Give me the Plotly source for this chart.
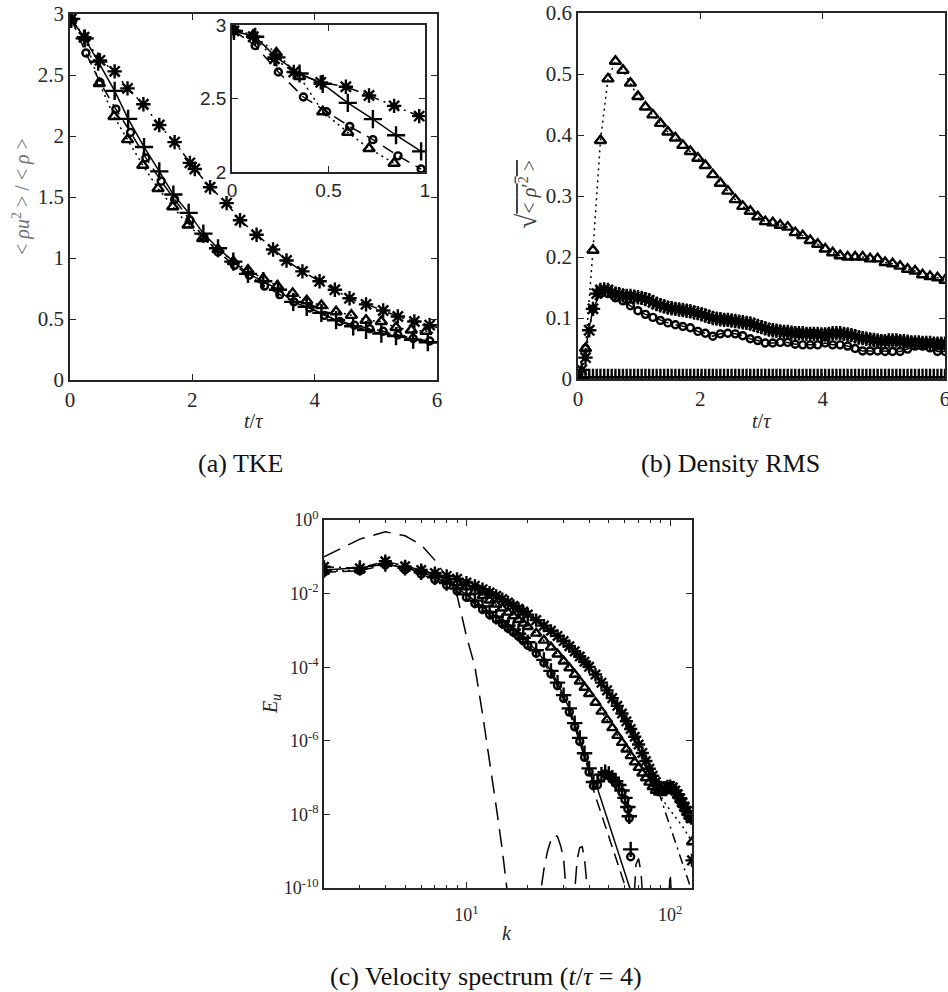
import numpy as np
import plotly.graph_objects as go

# ---------------- (a) TKE: <rho u^2>/<rho> versus t/tau ----------------
T_STAR_A = [0.02, 0.23, 0.49, 0.73, 0.94, 1.2, 1.46, 1.71, 1.96, 2.04, 2.29, 2.56, 2.78,
            3.05, 3.32, 3.54, 3.8, 4.08, 4.33, 4.57, 4.84, 5.12, 5.36, 5.63, 5.88, 6.0]
TKE_STAR_A = [2.96, 2.81, 2.62, 2.53, 2.39, 2.26, 2.09, 1.95, 1.78, 1.73, 1.58, 1.45, 1.31,
              1.19, 1.07, 0.98, 0.89, 0.81, 0.74, 0.67, 0.62, 0.57, 0.52, 0.48, 0.45, 0.43]
T_PLUS_A = [0.02, 0.24, 0.46, 0.73, 0.95, 1.21, 1.46, 1.69, 1.94, 2.18, 2.42, 2.67, 2.91,
            3.16, 3.4, 3.65, 3.87, 4.11, 4.35, 4.63, 4.84, 5.09, 5.33, 5.61, 5.85, 6.0]
TKE_PLUS_A = [2.96, 2.8, 2.61, 2.37, 2.14, 1.91, 1.71, 1.52, 1.37, 1.2, 1.08, 0.97, 0.87,
              0.81, 0.74, 0.64, 0.6, 0.55, 0.49, 0.44, 0.41, 0.38, 0.36, 0.33, 0.31, 0.305]
T_CIRC_A = [0.02, 0.26, 0.49, 0.75, 0.99, 1.24, 1.49, 1.71, 1.96, 2.19, 2.42, 2.69, 2.93,
            3.18, 3.43, 3.66, 3.92, 4.16, 4.41, 4.65, 4.9, 5.12, 5.36, 5.61, 5.88, 6.0]
TKE_CIRC_A = [2.96, 2.68, 2.44, 2.22, 2.03, 1.82, 1.63, 1.48, 1.31, 1.17, 1.05, 0.94, 0.86,
              0.77, 0.7, 0.64, 0.59, 0.53, 0.48, 0.45, 0.42, 0.4, 0.37, 0.34, 0.32, 0.31]
T_TRI_A = [0.02, 0.24, 0.48, 0.72, 0.94, 1.19, 1.44, 1.68, 1.93, 2.17, 2.42, 2.67, 2.91,
           3.16, 3.39, 3.64, 3.87, 4.11, 4.35, 4.6, 4.84, 5.09, 5.33, 5.58, 5.82, 6.0]
TKE_TRI_A = [2.96, 2.81, 2.43, 2.16, 1.97, 1.76, 1.57, 1.42, 1.27, 1.16, 1.07, 0.97, 0.9,
             0.83, 0.77, 0.71, 0.65, 0.61, 0.56, 0.53, 0.49, 0.48, 0.43, 0.41, 0.4, 0.38]

# inset of (a): early times 0 <= t/tau <= 1
T_STAR_IN = [0.01, 0.11, 0.22, 0.32, 0.46, 0.59, 0.71, 0.84, 0.97]
TKE_STAR_IN = [2.96, 2.92, 2.77, 2.68, 2.61, 2.58, 2.52, 2.45, 2.38]
T_PLUS_IN = [0.01, 0.12, 0.23, 0.35, 0.47, 0.6, 0.73, 0.85, 0.98]
TKE_PLUS_IN = [2.96, 2.92, 2.78, 2.67, 2.6, 2.47, 2.36, 2.25, 2.14]
T_CIRC_IN = [0.01, 0.12, 0.24, 0.37, 0.49, 0.61, 0.73, 0.86, 0.98]
TKE_CIRC_IN = [2.96, 2.86, 2.68, 2.51, 2.41, 2.31, 2.22, 2.11, 2.02]
T_TRI_IN = [0.01, 0.11, 0.23, 0.35, 0.47, 0.6, 0.71, 0.84]
TKE_TRI_IN = [2.97, 2.93, 2.81, 2.65, 2.41, 2.27, 2.16, 2.06]

# ---------------- (b) density RMS versus t/tau ----------------
RMS_STAR_B = [0.0, 0.015, 0.035, 0.08, 0.115, 0.14, 0.146, 0.147, 0.146, 0.142,
              0.14, 0.139, 0.137, 0.136, 0.136, 0.135, 0.134, 0.133, 0.131, 0.129,
              0.126, 0.123, 0.121, 0.119, 0.117, 0.116, 0.115, 0.114, 0.113, 0.112,
              0.111, 0.109, 0.108, 0.106, 0.104, 0.102, 0.1, 0.099, 0.098, 0.097,
              0.097, 0.096, 0.095, 0.094, 0.093, 0.092, 0.091, 0.089, 0.087, 0.085,
              0.083, 0.081, 0.08, 0.079, 0.078, 0.077, 0.077, 0.076, 0.075, 0.075,
              0.075, 0.074, 0.074, 0.074, 0.074, 0.073, 0.073, 0.074, 0.075, 0.075,
              0.075, 0.074, 0.073, 0.072, 0.07, 0.068, 0.067, 0.066, 0.065, 0.064,
              0.063, 0.062, 0.062, 0.063, 0.063, 0.063, 0.062, 0.062, 0.061, 0.06,
              0.06, 0.06, 0.059, 0.059, 0.059, 0.058, 0.058, 0.058, 0.058]
RMS_PLUS_B = [0.0, 0.002, 0.003, 0.003, 0.003, 0.003, 0.003, 0.003, 0.003, 0.003,
              0.003, 0.003, 0.003, 0.003, 0.003, 0.003, 0.003, 0.003, 0.003, 0.003,
              0.003, 0.003, 0.003, 0.003, 0.003, 0.003, 0.003, 0.003, 0.003, 0.003,
              0.003, 0.003, 0.003, 0.003, 0.003, 0.003, 0.003, 0.003, 0.003, 0.003,
              0.003, 0.003, 0.003, 0.003, 0.003, 0.003, 0.003, 0.003, 0.003, 0.003,
              0.003, 0.003, 0.003, 0.003, 0.003, 0.003, 0.003, 0.003, 0.003, 0.003,
              0.003, 0.003, 0.003, 0.003, 0.003, 0.003, 0.003, 0.003, 0.003, 0.003,
              0.003, 0.003, 0.003, 0.003, 0.003, 0.003, 0.003, 0.003, 0.003, 0.003,
              0.003, 0.003, 0.003, 0.003, 0.003, 0.003, 0.003, 0.003, 0.003, 0.003,
              0.003, 0.003, 0.003, 0.003, 0.003, 0.003, 0.003, 0.003, 0.003]
RMS_CIRC_B = [0.0, 0.05, 0.115, 0.14, 0.14, 0.133, 0.128, 0.12, 0.112, 0.106,
              0.101, 0.096, 0.092, 0.089, 0.086, 0.084, 0.078, 0.075, 0.07, 0.074,
              0.075, 0.074, 0.071, 0.066, 0.063, 0.059, 0.059, 0.06, 0.06, 0.057,
              0.056, 0.056, 0.056, 0.059, 0.056, 0.056, 0.054, 0.05, 0.046, 0.046,
              0.046, 0.045, 0.045, 0.045, 0.049, 0.054, 0.054, 0.051, 0.045, 0.045]
RMS_TRI_B = [0.0, 0.05, 0.211, 0.391, 0.492, 0.521, 0.506, 0.485, 0.463, 0.446,
             0.433, 0.419, 0.405, 0.395, 0.383, 0.373, 0.362, 0.35, 0.335, 0.321,
             0.308, 0.294, 0.283, 0.275, 0.266, 0.258, 0.256, 0.252, 0.249, 0.24,
             0.235, 0.227, 0.221, 0.213, 0.207, 0.202, 0.2, 0.2, 0.2, 0.197,
             0.197, 0.191, 0.189, 0.185, 0.18, 0.177, 0.171, 0.168, 0.166, 0.162]
T_FINE_B = np.linspace(0.0, 6.0, len(RMS_STAR_B))
T_COARSE_B = np.linspace(0.0, 6.0, len(RMS_CIRC_B))

# ---------------- (c) velocity spectrum at t/tau = 4 (log10 of E_u) ----------------
K_HI = [2, 3, 4, 5, 6, 7, 8, 9, 10, 11, 12, 13, 14, 15, 16, 17, 18, 19, 20,
        22, 24, 26, 28, 30, 32, 34, 36, 38, 40,
        43, 46, 49, 52, 55, 58, 61, 64, 67, 70, 73, 76, 79, 82, 85, 88, 91, 94, 97, 100,
        103, 106, 109, 112, 115, 118, 121, 124, 127, 128]
LOG_E_STAR = [-1.27, -1.31, -1.12, -1.26, -1.36, -1.44, -1.52, -1.6, -1.7, -1.79,
              -1.88, -1.97, -2.06, -2.15, -2.24, -2.33, -2.41, -2.49, -2.57,
              -2.72, -2.87, -3.01, -3.15, -3.29, -3.43, -3.57, -3.71, -3.85, -3.99,
              -4.2, -4.42, -4.63, -4.84, -5.05, -5.26, -5.47, -5.68, -5.89, -6.1,
              -6.33, -6.55, -6.76, -6.95, -7.12, -7.25, -7.3, -7.28, -7.24, -7.23,
              -7.27, -7.35, -7.45, -7.56, -7.68, -7.8, -7.91, -8.02, -8.1, -9.25]
LOG_E_TRI = [-1.4, -1.36, -1.18, -1.3, -1.4, -1.5, -1.6, -1.71, -1.82, -1.94,
             -2.06, -2.18, -2.29, -2.4, -2.51, -2.61, -2.71, -2.81, -2.9,
             -3.08, -3.27, -3.46, -3.65, -3.84, -4.02, -4.2, -4.38, -4.55, -4.72,
             -4.96, -5.2, -5.43, -5.65, -5.86, -6.05, -6.23, -6.41, -6.58, -6.73,
             -6.88, -7.01, -7.13, -7.25, -7.35, -7.4, -7.41, -7.36, -7.3, -7.28,
             -7.31, -7.38, -7.48, -7.6, -7.72, -7.84, -7.95, -8.05, -8.15, -8.75]
K_LO = [2, 3, 4, 5, 6, 7, 8, 9, 10, 11, 12, 13, 14, 15, 16, 17, 18, 19, 20,
        22, 24, 26, 28, 30, 32, 34, 36, 38, 40,
        42, 44, 46, 48, 50, 52, 54, 56, 58, 60, 62, 63, 64]
LOG_E_CIRC = [-1.42, -1.38, -1.22, -1.35, -1.47, -1.62, -1.77, -1.93, -2.1, -2.27,
              -2.43, -2.57, -2.7, -2.82, -2.94, -3.05, -3.16, -3.28, -3.4,
              -3.62, -3.88, -4.18, -4.5, -4.85, -5.22, -5.62, -6.02, -6.45, -6.85,
              -7.22, -7.2, -7.0, -6.9, -6.95, -7.05, -7.15, -7.25, -7.4, -7.6, -7.85,
              -8.1, -9.15]
LOG_E_PLUS = [-1.36, -1.3, -1.2, -1.3, -1.42, -1.56, -1.71, -1.86, -2.02, -2.19,
              -2.35, -2.5, -2.63, -2.75, -2.87, -2.98, -3.09, -3.2, -3.32,
              -3.54, -3.8, -4.1, -4.42, -4.76, -5.12, -5.52, -5.92, -6.34, -6.75,
              -7.12, -7.1, -6.92, -6.85, -6.9, -7.0, -7.1, -7.2, -7.35, -7.55, -7.8,
              -8.05, -8.95]
# tails of the connecting lines where they leave the marker bands
K_STAR_TAIL = [88, 91, 95, 100, 105, 110, 115, 120, 125, 128]
LOG_E_STAR_TAIL = [-7.4, -7.62, -7.96, -8.33, -8.68, -9.02, -9.33, -9.64, -9.94, -10.1]
K_TRI_TAIL = [91, 94, 97, 100, 106, 112, 118, 124, 128]
LOG_E_TRI_TAIL = [-7.55, -7.68, -7.79, -7.88, -8.06, -8.24, -8.42, -8.6, -8.75]
K_CIRC_TAIL = [42, 46, 50, 55, 60, 64]
LOG_E_CIRC_TAIL = [-7.34, -8.0, -8.61, -9.3, -9.96, -10.4]
K_PLUS_TAIL = [42, 44, 48, 52, 56, 60, 64, 66]
LOG_E_PLUS_TAIL = [-7.2, -7.3, -7.94, -8.52, -9.05, -9.55, -10.05, -10.3]
# reference spectrum (long dashes, no markers)
K_REF = [2, 3, 4, 5, 6, 7, 8, 9, 10, 11, 12, 13, 14, 15, 16, 17, 20, 22, 23, 24, 25, 26,
         27, 28, 29, 30, 31, 32, 33, 34, 35, 36, 37, 38, 39, 40, 44, 50, 60, 66, 68, 70,
         72, 74, 80, 90, 98, 100, 102, 104, 128]
LOG_E_REF = [-1.0, -0.52, -0.32, -0.43, -0.68, -1.09, -1.55, -2.05, -3.15, -3.98, -5.27,
             -6.54, -7.78, -8.96, -10.4, -11.5, -12.0, -11.0, -10.2, -9.5, -9.0, -8.7,
             -8.56, -8.6, -8.85, -9.2, -10.2, -11.0, -11.0, -10.2, -9.2, -8.9, -8.88, -9.2,
             -9.9, -10.6, -11.5, -12.0, -12.0, -10.6, -9.35, -9.2, -9.6, -10.6, -12.0,
             -12.0, -10.5, -9.6, -10.4, -11.5, -12.0]

# ---------------- styling ----------------
W, H = 948, 992
INK = "#000000"
AX = "#262626"
SERIF = "Liberation Serif, Times New Roman, DejaVu Serif, serif"
SANS = "Liberation Sans, Arial, sans-serif"
DASH_STAR = "10px,5px,2px,5px"
DASH_CIRC = "12px,7px"
DASH_TRI = "2px,4px"
DASH_REF = "18px,9px"
LW = 1.5
MLW = 2.4


def xd(a, b):
    return [a / W, b / W]


def yd(top, bottom):
    return [1 - bottom / H, 1 - top / H]


def pow10(vals):
    return [10.0 ** v for v in vals]


fig = go.Figure()


def series(x, y, xa, ya, symbol, size, dash, mode="lines+markers", last_hidden=False):
    sizes = [size] * len(x)
    if last_hidden:
        sizes[-1] = 0
    fig.add_trace(go.Scatter(
        x=list(x), y=list(y), xaxis=xa, yaxis=ya, mode=mode,
        line=dict(color=INK, width=LW, dash=dash),
        marker=dict(symbol=symbol, size=sizes, color=INK, opacity=1,
                    line=dict(color=INK, width=MLW)),
        opacity=1, showlegend=False, hoverinfo="skip"))


# (a) main
series(T_STAR_A, TKE_STAR_A, "x", "y", "asterisk-open", 12, DASH_STAR, last_hidden=True)
series(T_PLUS_A, TKE_PLUS_A, "x", "y", "cross-thin-open", 13, "solid", last_hidden=True)
series(T_CIRC_A, TKE_CIRC_A, "x", "y", "circle-open", 7, DASH_CIRC, last_hidden=True)
series(T_TRI_A, TKE_TRI_A, "x", "y", "triangle-up-open", 10, DASH_TRI, last_hidden=True)

# (b)
series(T_COARSE_B, RMS_TRI_B, "x2", "y2", "triangle-up-open", 10, DASH_TRI)
series(T_FINE_B, RMS_PLUS_B, "x2", "y2", "cross-thin-open", 12, "solid")
series(T_COARSE_B, RMS_CIRC_B, "x2", "y2", "circle-open", 7, DASH_CIRC)
series(T_FINE_B, RMS_STAR_B, "x2", "y2", "asterisk-open", 12, DASH_STAR)

# (c)
series(K_REF, pow10(LOG_E_REF), "x3", "y3", "circle", 0, DASH_REF, mode="lines")
i_star = K_HI.index(85) + 1
series(K_HI[:i_star] + K_STAR_TAIL, pow10(LOG_E_STAR[:i_star] + LOG_E_STAR_TAIL),
       "x3", "y3", "circle", 0, DASH_STAR, mode="lines")
i_tri = K_HI.index(88) + 1
series(K_HI[:i_tri] + K_TRI_TAIL, pow10(LOG_E_TRI[:i_tri] + LOG_E_TRI_TAIL),
       "x3", "y3", "circle", 0, DASH_TRI, mode="lines")
i_lo = K_LO.index(40) + 1
series(K_LO[:i_lo] + K_CIRC_TAIL, pow10(LOG_E_CIRC[:i_lo] + LOG_E_CIRC_TAIL),
       "x3", "y3", "circle", 0, DASH_CIRC, mode="lines")
series(K_LO[:i_lo] + K_PLUS_TAIL, pow10(LOG_E_PLUS[:i_lo] + LOG_E_PLUS_TAIL),
       "x3", "y3", "circle", 0, "solid", mode="lines")
series(K_HI, pow10(LOG_E_STAR), "x3", "y3", "asterisk-open", 11, "solid", mode="markers")
series(K_HI, pow10(LOG_E_TRI), "x3", "y3", "triangle-up-open", 9, "solid", mode="markers")
series(K_LO, pow10(LOG_E_CIRC), "x3", "y3", "circle-open", 7, "solid", mode="markers")
series(K_LO, pow10(LOG_E_PLUS), "x3", "y3", "cross-thin-open", 11, "solid", mode="markers")

# inset of (a)
series(T_STAR_IN, TKE_STAR_IN, "x4", "y4", "asterisk-open", 12, DASH_STAR)
series(T_PLUS_IN, TKE_PLUS_IN, "x4", "y4", "cross-thin-open", 13, "solid")
series(T_CIRC_IN, TKE_CIRC_IN, "x4", "y4", "circle-open", 7, DASH_CIRC)
series(T_TRI_IN, TKE_TRI_IN, "x4", "y4", "triangle-up-open", 10, DASH_TRI)


def axis(domain, anchor, rng, tickvals, ticktext, font=SERIF, size=21, **kw):
    d = dict(domain=domain, anchor=anchor, range=rng, tickmode="array",
             tickvals=tickvals, ticktext=ticktext, showline=True, linecolor=AX,
             linewidth=1.6, mirror="ticks", ticks="inside", ticklen=6, tickwidth=1.3,
             tickcolor=AX, showgrid=False, zeroline=False, automargin=False,
             ticklabeloverflow="allow",
             tickfont=dict(family=font, size=size, color="#262626"))
    d.update(kw)
    return d


Y_TICKS_A = [0, 0.5, 1, 1.5, 2, 2.5, 3]
Y_TICKS_B = [0, 0.1, 0.2, 0.3, 0.4, 0.5, 0.6]
T_TICKS = [0, 2, 4, 6]
E_TICKS = [0, -2, -4, -6, -8, -10]
K_TICKS = [10, 100]
K_MINOR = [3, 4, 5, 6, 7, 8, 9, 20, 30, 40, 50, 60, 70, 80, 90]

fig.update_layout(
    width=W, height=H, margin=dict(l=0, r=0, t=0, b=0, pad=0, autoexpand=False),
    paper_bgcolor="white", plot_bgcolor="white",
    xaxis=axis(xd(70, 437), "y", [0, 6], T_TICKS, [str(v) for v in T_TICKS]),
    yaxis=axis(yd(14, 380), "x", [0, 3], Y_TICKS_A, ["0", "0.5", "1", "1.5", "2", "2.5", "3"]),
    xaxis2=axis(xd(578, 945), "y2", [0, 6], T_TICKS, [str(v) for v in T_TICKS]),
    yaxis2=axis(yd(13, 379), "x2", [0, 0.6], Y_TICKS_B,
                ["0", "0.1", "0.2", "0.3", "0.4", "0.5", "0.6"]),
    xaxis3=axis(xd(324, 692), "y3", [np.log10(2), np.log10(128)], K_TICKS,
                ["10<sup>1</sup>", "10<sup>2</sup>"], size=18, type="log",
                ticklabelstandoff=10,
                minor=dict(tickvals=K_MINOR, ticks="inside", ticklen=3,
                           tickwidth=1.1, tickcolor=AX, showgrid=False)),
    yaxis3=axis(yd(520, 888), "x3", [-10, 0], [10.0 ** e for e in E_TICKS],
                ["10<sup>%d</sup>" % e for e in E_TICKS], size=18, type="log"),
    xaxis4=axis(xd(232, 425), "y4", [0, 1], [0, 0.5, 1], ["0", "0.5", "1"],
                font=SANS, size=19),
    yaxis4=axis(yd(25, 172), "x4", [2, 3], [2, 2.5, 3], ["2", "2.5", "3"],
                font=SANS, size=19),
)


def label(text, x, y, size=20, angle=0, color="#262626"):
    fig.add_annotation(text=text, x=x / W, y=1 - y / H, xref="paper", yref="paper",
                       xanchor="center", yanchor="middle", showarrow=False,
                       textangle=angle, font=dict(family=SERIF, size=size, color=color))


label("<i>t</i>/<i>τ</i>", 253, 421)
label("<i>t</i>/<i>τ</i>", 761, 421)
label("<i>k</i>", 507, 933)
label("&lt; <i>ρu</i><sup>2</sup> &gt; / &lt; <i>ρ</i> &gt;", 21, 197, angle=-90, color="#707070")
label("<span style='font-size:28px'>√</span><span style='text-decoration:overline'>"
      "&lt; <i>ρ</i>′<sup>2</sup> &gt;</span>",
      527, 195, angle=-90, color="#444444")
label("<i>E<sub>u</sub></i>", 271, 704, angle=-90)
label("(a) TKE", 240, 463, size=26, color="#111111")
label("(b) Density RMS", 730, 463, size=26, color="#111111")
label("(c) Velocity spectrum (<i>t</i>/<i>τ</i> = 4)", 486, 976, size=26, color="#111111")

fig.write_html("out.html")
